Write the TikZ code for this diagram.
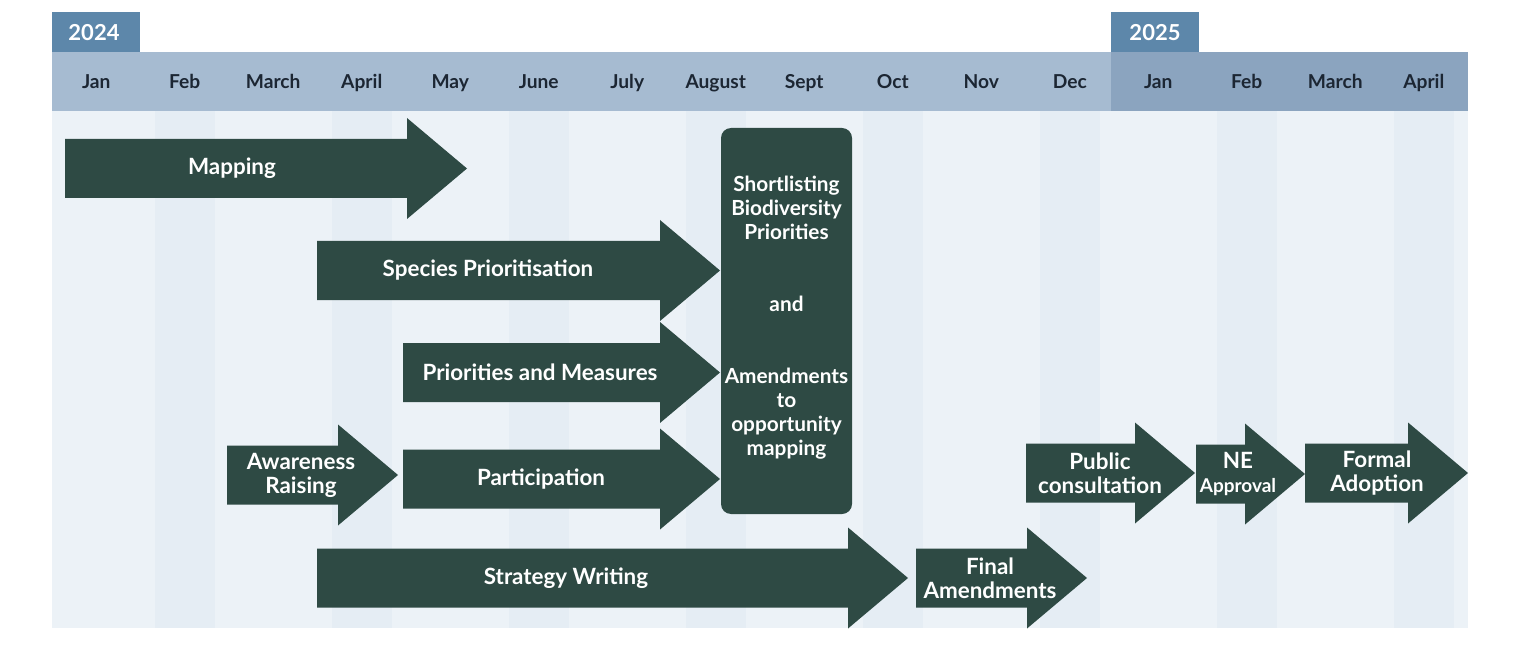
\documentclass[tikz,border=0pt]{standalone}
\usepackage{fontspec}
\setmainfont{Lato}

\definecolor{phasegreen}{HTML}{2E4A44}
\definecolor{yeartab}{HTML}{5D87AA}
\definecolor{barfirst}{HTML}{A6BBD1}
\definecolor{barsecond}{HTML}{8BA4BF}
\definecolor{monthtext}{HTML}{1C2633}
\definecolor{stripeA}{HTML}{ECF2F7}
\definecolor{stripeB}{HTML}{E5EDF4}

% one phase of the plan: name, tail x, tip x, centre y, text x, text
\newcommand{\phasearrow}[6]{%
	\fill[phasegreen] (#2,#4-29.5) -- (#3-60,#4-29.5) -- (#3-60,#4-50.5)
		-- (#3,#4) -- (#3-60,#4+50.5) -- (#3-60,#4+29.5) -- (#2,#4+29.5) -- cycle;
	\node[phasetext] (#1) at (#5,#4) {#6};
}

\begin{document}
\begin{tikzpicture}[
	x = 0.5pt, y = -0.5pt,
	month/.style = {font = \bfseries\fontsize{9.6}{11}\selectfont, text = monthtext, text height = 1.5ex, text depth = .25ex},
	year/.style = {font = \bfseries\fontsize{11}{13}\selectfont, text = white},
	phasetext/.style = {font = \bfseries\fontsize{11.2}{12}\selectfont, text = white, align = center, inner sep = 0pt},
	shortbox/.style = {fill = phasegreen, rounded corners = 5pt, minimum width = 65.5pt, minimum height = 193pt}
	]
	\useasboundingbox (0,0) rectangle (1530,652);
	\fill[white] (0,0) rectangle (1530,652);

	% background columns
	\fill[stripeA] (52,111) rectangle (1468,628);
	\foreach \i in {1,3,...,15}
		\fill[stripeB] ({52+88.5*\i+14},111) rectangle ({52+88.5*\i+74},628);

	% months and years
	\fill[barfirst] (52,52) rectangle (1111,111);
	\fill[barsecond] (1111,52) rectangle (1468,111);
	\fill[yeartab] (52,12) rectangle (140,52);
	\fill[yeartab] (1111,12) rectangle (1199,52);
	\node[year] (y2024) at (94,33) {2024};
	\node[year] (y2025) at (1155,33) {2025};
	\foreach \m [count = \i from 0] in {Jan,Feb,March,April,May,June,July,August,Sept,Oct,Nov,Dec,Jan,Feb,March,April}
		\node[month] (m\i) at ({96.25+88.5*\i},82) {\m};

	% phases
	\phasearrow{mapping}{65}{467}{168.5}{232}{Mapping}
	\phasearrow{species}{317}{720}{270.5}{488}{Species Prioritisation}
	\phasearrow{measures}{403}{720}{372.5}{540}{Priorities and Measures}
	\phasearrow{awareness}{227}{398}{475}{301}{Awareness\\Raising}
	\phasearrow{participation}{403}{720}{479}{541}{Participation}
	\phasearrow{strategy}{317}{908}{578}{566}{Strategy Writing}
	\phasearrow{finalamend}{916}{1087}{578}{990}{Final\\Amendments}
	\phasearrow{public}{1026}{1195}{473}{1100}{Public\\consultation}
	\phasearrow{neapproval}{1196}{1305}{474}{1238}{NE\\{\fontsize{9.5}{11}\selectfont Approval}}
	\phasearrow{adoption}{1305}{1468}{473}{1377}{Formal\\Adoption}

	% shortlisting box
	\node[shortbox] (shortlist) at (786.5,321) {};
	\node[phasetext, font = \bfseries\fontsize{10.4}{12}\selectfont] (shorttext) at (786.5,318)
		{Shortlisting\\Biodiversity\\Priorities\\[24pt]and\\[24pt]Amendments\\to\\opportunity\\mapping};
\end{tikzpicture}
\end{document}
